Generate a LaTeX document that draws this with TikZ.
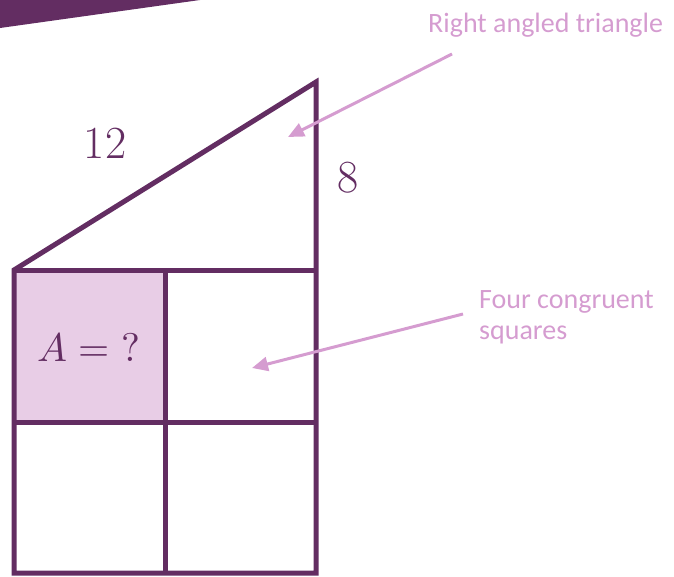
\documentclass[tikz,border=0pt]{standalone}
\usepackage{fontspec}
\usepackage{unicode-math}
\setmathfont{Latin Modern Math}
\newfontfamily\notefont{Carlito}
\usetikzlibrary{arrows.meta}
\definecolor{plum}{HTML}{632D62}
\definecolor{lilac}{HTML}{E8CDE6}
\definecolor{orchid}{HTML}{D59CD0}

\begin{document}
\begin{tikzpicture}[x=1pt,y=-1pt,
        edge/.style={draw=plum, line width=5pt},
        num/.style={text=plum, font=\fontsize{46}{55}\selectfont, inner sep=0pt},
        note/.style={text=orchid, font=\notefont\fontsize{28}{31}\selectfont, align=left, inner sep=0pt},
        pointer/.style={draw=orchid, line width=3pt, -{Triangle[length=16pt,width=14pt]}}]
        \useasboundingbox (0,0) rectangle (674,576);
        \fill[plum] (0,0) -- (200,0) -- (0,28) -- cycle;
        \fill[lilac] (14,270) rectangle (165,422);
        \draw[edge] (14,270) -- (316,82) -- (316,573) -- (14,573) -- cycle;
        \draw[edge] (14,270) -- (316,270);
        \draw[edge] (14,422) -- (316,422);
        \draw[edge] (165,270) -- (165,573);
        \node[num] (hyp) at (105,143) {12};
        \node[num] (leg) at (348,178) {8};
        \node[num, font=\fontsize{40}{48}\selectfont] (ask) at (89,347) {$A={?}$};
        \node[note, anchor=base west] (tri) at (428,32) {Right angled triangle};
        \node[note, anchor=base west] (four) at (479,339) {Four congruent\\squares};
        \coordinate (triTail) at (452,54);
        \coordinate (triTip) at (288,137);
        \coordinate (sqTail) at (463,314);
        \coordinate (sqTip) at (252,368);
        \draw[pointer] (triTail) -- (triTip);
        \draw[pointer] (sqTail) -- (sqTip);
\end{tikzpicture}
\end{document}
